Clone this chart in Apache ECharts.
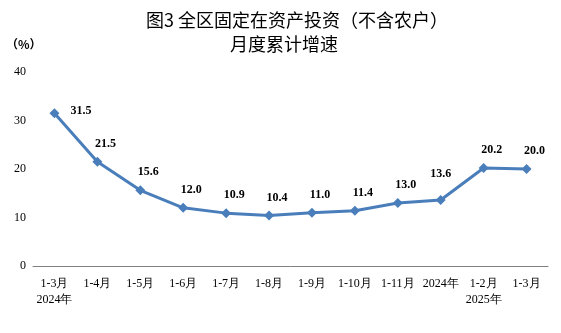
<!DOCTYPE html>
<html><head><meta charset="utf-8">
<script src="https://cdn.jsdelivr.net/npm/echarts@6/dist/echarts.min.js"></script>
<style>html,body{margin:0;padding:0;background:#fff}#c{width:561px;height:333px}</style>
</head><body><div id="c"></div>
<script>
const categories = ['1-3月\n2024年','1-4月','1-5月','1-6月','1-7月','1-8月','1-9月','1-10月','1-11月','2024年','1-2月\n2025年','1-3月'];
const values = [31.5,21.5,15.6,12.0,10.9,10.4,11.0,11.4,13.0,13.6,20.2,20.0];
const yTicks = [0,10,20,30,40];
const titleLines = ['图3 全区固定在资产投资（不含农户）','月度累计增速'];

const chart = echarts.init(document.getElementById('c'));
const serif = '"Liberation Serif","Times New Roman",serif';
const data = values.map((v,i)=>{
  const o = {value:v};
  if (i===0) o.label = {position:'right', offset:[6,-2]};
  else if (i===9) o.label = {position:'top', offset:[0,-10]};
  return o;
});
const tStyle = {fontFamily:'"Noto Sans CJK SC"', fontSize:18, fontWeight:'normal', color:'#000'};
chart.setOption({
  animation:false,
  title:[
    {text:titleLines[0], left:292, textAlign:'center', top:6, textStyle:tStyle},
    {text:titleLines[1], left:279, textAlign:'center', top:30, textStyle:tStyle}
  ],
  graphic:[{type:'text', left:6, top:38, style:{text:'（%）', font:'bold 12px "Noto Sans CJK SC"', fill:'#000'}}],
  grid:{left:33, right:13, top:72, bottom:67},
  xAxis:{type:'category', data:categories, boundaryGap:true,
    axisLine:{lineStyle:{color:'#808080', width:1}}, axisTick:{show:false},
    axisLabel:{interval:0, color:'#000', fontFamily:serif, fontSize:12, lineHeight:16, margin:10}},
  yAxis:{type:'value', min:yTicks[0], max:yTicks[yTicks.length-1], interval:10,
    axisLine:{show:false}, axisTick:{show:false}, splitLine:{show:false},
    axisLabel:{color:'#000', fontFamily:serif, fontSize:12, margin:7}},
  series:[{type:'line', data:data, symbol:'diamond', symbolSize:10,
    lineStyle:{color:'#4A7EBB', width:3}, itemStyle:{color:'#4A7EBB'},
    label:{show:true, position:'top', offset:[8,-2], formatter:p=>p.value.toFixed(1),
      fontFamily:serif, fontWeight:'bold', fontSize:12, color:'#000'}}]
});
</script></body></html>
